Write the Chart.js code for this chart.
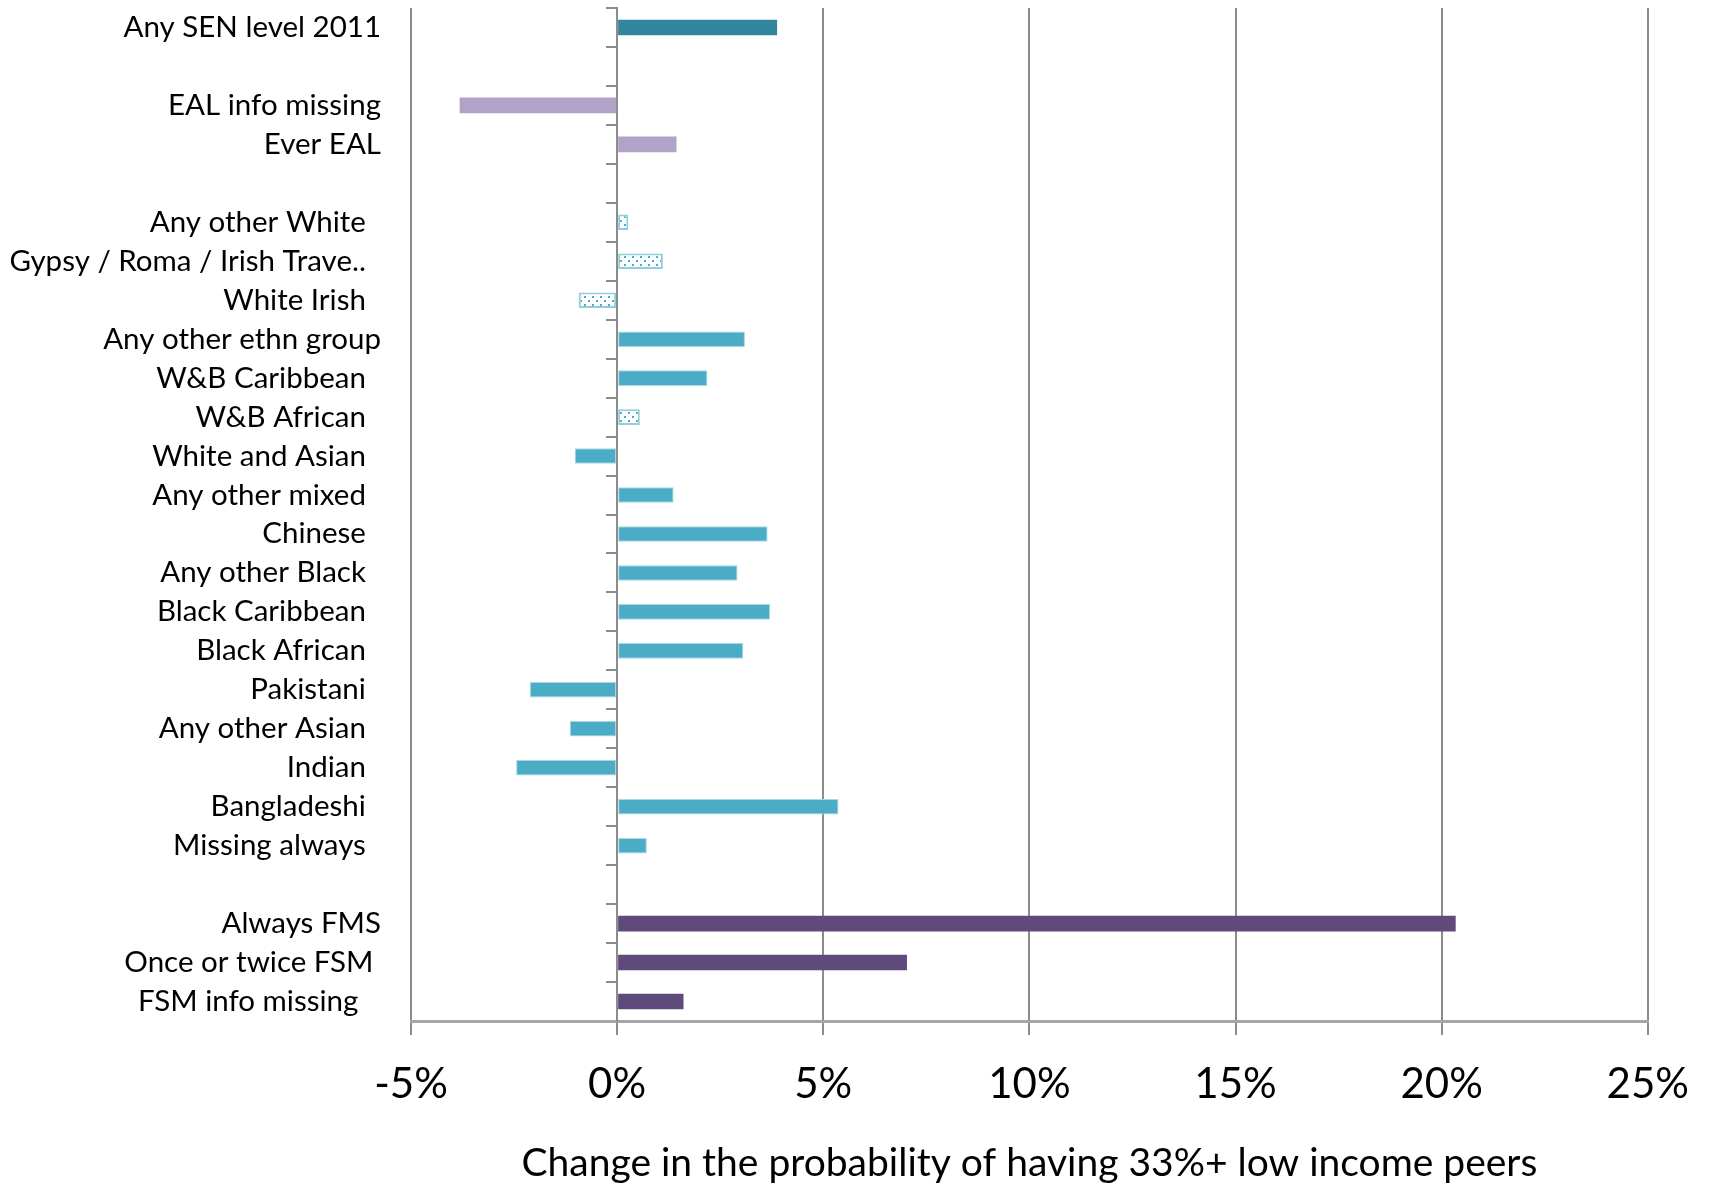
<!DOCTYPE html>
<html>
<head>
<meta charset="utf-8">
<script src="https://cdn.jsdelivr.net/npm/chart.js@4/dist/chart.umd.min.js"></script>
<style>
  html, body { margin: 0; padding: 0; background: #ffffff; }
  #wrap { width: 1713px; height: 1184px; }
</style>
</head>
<body>
<div id="wrap"><canvas id="chart" width="1713" height="1184"></canvas></div>
<script>
// Pupil characteristics (top to bottom); empty strings are spacer rows between groups.
// Trailing spaces keep the right-hand label edges staggered as in the original layout.
const categories = [
  'Any SEN level 2011', '',
  'EAL info missing', 'Ever EAL', '',
  'Any other White  ', 'Gypsy / Roma / Irish Trave..  ', 'White Irish  ',
  'Any other ethn group', 'W&B Caribbean  ', 'W&B African  ', 'White and Asian  ',
  'Any other mixed  ', 'Chinese  ', 'Any other Black  ', 'Black Caribbean  ',
  'Black African  ', 'Pakistani  ', 'Any other Asian  ', 'Indian  ',
  'Bangladeshi  ', 'Missing always  ', '',
  'Always FMS', 'Once or twice FSM ', 'FSM info missing   '
];

// Change in probability (percentage points)
const changes = [
  3.88, null,
  -3.82, 1.44, null,
  0.27, 1.11, -0.93,
  3.10, 2.19, 0.55, -1.03,
  1.37, 3.65, 2.92, 3.71,
  3.06, -2.12, -1.15, -2.45,
  5.37, 0.72, null,
  20.34, 7.03, 1.61
];

// Group of each row ('ethnicNS' = estimate drawn with a dotted fill)
const groups = [
  'sen', 'none',
  'eal', 'eal', 'none',
  'ethnicNS', 'ethnicNS', 'ethnicNS',
  'ethnic', 'ethnic', 'ethnicNS', 'ethnic',
  'ethnic', 'ethnic', 'ethnic', 'ethnic',
  'ethnic', 'ethnic', 'ethnic', 'ethnic',
  'ethnic', 'ethnic', 'none',
  'fsm', 'fsm', 'fsm'
];

const xTickValues = [-5, 0, 5, 10, 15, 20, 25];
const axisTitle = 'Change in the probability of having 33%+ low income peers';

// Dotted fill: white tile with two staggered teal dots
function dottedPattern() {
  const tile = document.createElement('canvas');
  tile.width = 8; tile.height = 8;
  const t = tile.getContext('2d');
  t.fillStyle = '#ffffff';
  t.fillRect(0, 0, 8, 8);
  t.fillStyle = '#4bacc6';
  t.fillRect(0, 0, 2, 2);
  t.fillRect(4, 4, 2, 2);
  return t.createPattern(tile, 'repeat');
}

const dots = dottedPattern();
const groupStyle = {
  sen:      { bg: '#31859c', border: '#31859c', width: 0 },
  eal:      { bg: '#b3a2c7', border: '#b3a2c7', width: 0 },
  ethnic:   { bg: '#4bacc6', border: '#a9d8e5', width: 1 },
  ethnicNS: { bg: dots,      border: '#92cddc', width: 2 },
  fsm:      { bg: '#604a7b', border: '#604a7b', width: 0 },
  none:     { bg: 'rgba(0,0,0,0)', border: 'rgba(0,0,0,0)', width: 0 }
};

Chart.defaults.font.family = 'Lato, "Open Sans", sans-serif';
Chart.defaults.color = '#000000';

new Chart(document.getElementById('chart'), {
  type: 'bar',
  data: {
    labels: categories,
    datasets: [{
      data: changes,
      backgroundColor: c => groupStyle[groups[c.dataIndex]].bg,
      borderColor: c => groupStyle[groups[c.dataIndex]].border,
      borderWidth: c => groupStyle[groups[c.dataIndex]].width,
      borderSkipped: false,
      barPercentage: 0.4,
      categoryPercentage: 1.0
    }]
  },
  options: {
    indexAxis: 'y',
    responsive: false,
    animation: false,
    layout: { padding: { top: 8, right: 65, bottom: 0, left: 0 } },
    plugins: {
      legend: { display: false },
      tooltip: { enabled: false }
    },
    scales: {
      x: {
        type: 'linear',
        min: -5,
        max: 25,
        afterBuildTicks: s => { s.ticks = xTickValues.map(v => ({ value: v })); },
        ticks: {
          callback: v => v + '%',
          font: { size: 42 },
          color: '#000000',
          padding: 24
        },
        grid: { color: '#8c8c8c', lineWidth: 2, tickLength: 14, tickWidth: 2 },
        border: { color: '#a6a6a6', width: 3 },
        title: {
          display: true,
          text: axisTitle,
          font: { size: 39, lineHeight: 1.0 },
          color: '#000000',
          padding: { top: 10, bottom: 1 }
        },
        afterFit: s => { s.height = 163; }
      },
      y: {
        ticks: { font: { size: 29.5 }, color: '#000000', padding: 22, autoSkip: false },
        grid: { display: false },
        border: { display: false },
        afterFit: s => {
          s.width = 411;
          // labels sit inside their rows, so no extra room above/below the plot
          s.paddingTop = 0;
          s.paddingBottom = 0;
        }
      },
      // Category axis drawn along the 0% line, showing only its tick marks
      y2: {
        type: 'category',
        axis: 'y',
        labels: categories,
        position: { x: 0 },
        offset: true,
        grid: { offset: true, drawOnChartArea: false, drawTicks: true, tickLength: 10, color: '#8c8c8c', lineWidth: 2 },
        ticks: { display: false },
        border: { display: true, color: '#8c8c8c', width: 2 }
      }
    }
  }
});
</script>
</body>
</html>
